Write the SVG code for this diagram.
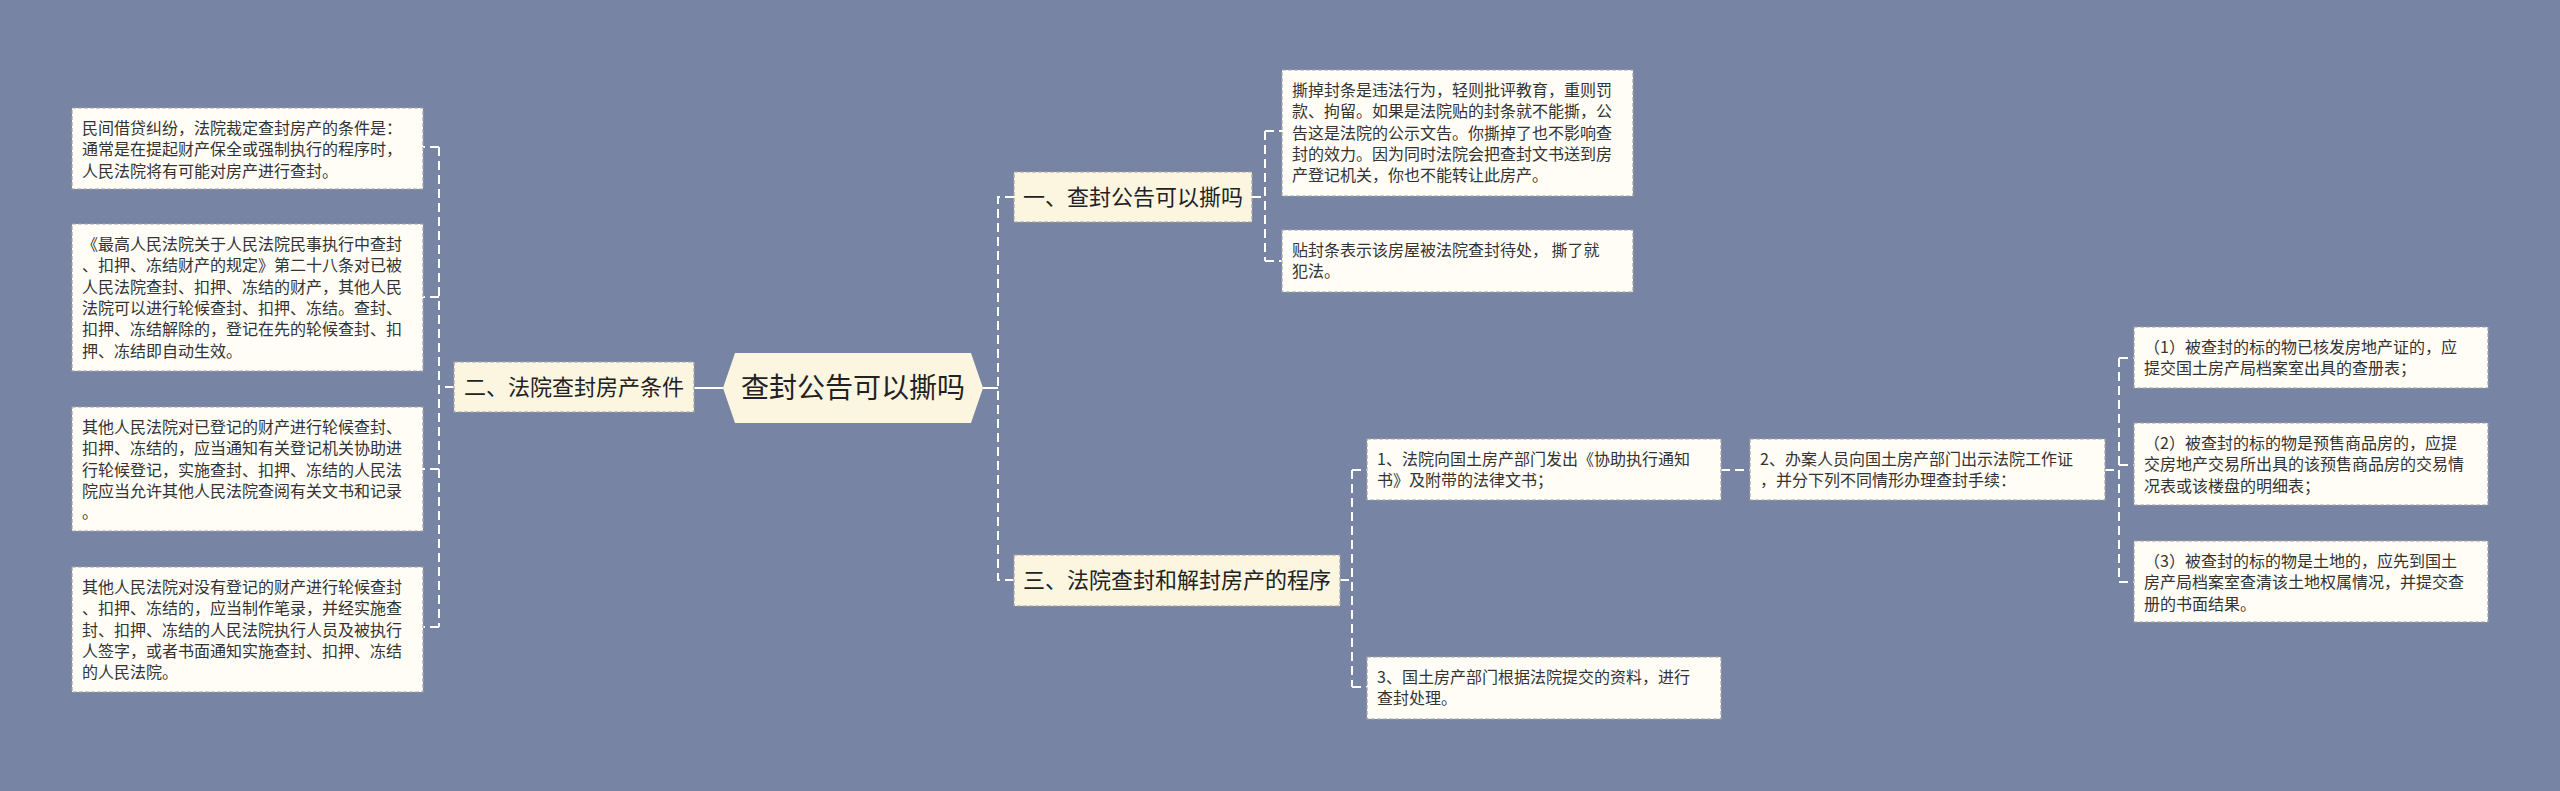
<svg xmlns="http://www.w3.org/2000/svg" width="2560" height="791" viewBox="0 0 2560 791">
<style>
.bg{fill:#7784a3}
.leaf{fill:#fffdf5;stroke:#a3a3a3;stroke-width:1.2;stroke-dasharray:4 2}
.l1{fill:#fcf5e0;stroke:#a3a3a3;stroke-width:1.2;stroke-dasharray:4 2}
.root{fill:#fcf5e0}
.t{font-family:"Noto Sans CJK SC","Noto Sans",sans-serif;font-size:16px;fill:#333333;white-space:pre}
.t1{font-family:"Noto Sans CJK SC","Noto Sans",sans-serif;font-size:22px;fill:#222222;text-anchor:middle}
.t0{font-family:"Noto Sans CJK SC","Noto Sans",sans-serif;font-size:28px;fill:#222222;text-anchor:middle}
.c{fill:none;stroke:#ffffff;stroke-width:2;stroke-dasharray:9 5}
.cs{fill:none;stroke:#ffffff;stroke-width:2}
</style>
<rect class="bg" x="0" y="0" width="2560" height="791"/>
<g id="connectors">
<path class="cs" d="M723 388 H694"/>
<path class="c" d="M454 387 H439"/>
<path class="c" d="M439 147 V627"/>
<path class="c" d="M439 147 H423 M439 297 H423 M439 469 H423 M439 627 H423"/>
<path class="cs" d="M983 388 H998"/>
<path class="c" d="M1014 197 H998 V580 H1014"/>
<path class="c" d="M1252 197 H1265 M1265 131 V261 M1265 131 H1282 M1265 261 H1282"/>
<path class="c" d="M1340 580 H1352 M1352 470 V687 M1352 470 H1367 M1352 687 H1367"/>
<path class="c" d="M1721 470 H1750"/>
<path class="c" d="M2105 470 H2119 M2119 358 V582 M2119 358 H2134 M2119 465 H2134 M2119 582 H2134"/>
</g>
<g id="root">
<polygon class="root" points="723,388 735,353 971,353 983,388 971,423 735,423"/>
<text class="t0" x="853" y="398">查封公告可以撕吗</text>
</g>
<g id="n2">
<rect class="l1" x="454" y="362" width="240" height="50"/>
<text class="t1" x="574" y="395">二、法院查封房产条件</text>
</g>
<g id="n2a">
<rect class="leaf" x="72" y="108" width="351" height="81"/>
<text class="t" x="82" y="134">民间借贷纠纷，法院裁定查封房产的条件是：</text>
<text class="t" x="82" y="155.3">通常是在提起财产保全或强制执行的程序时，</text>
<text class="t" x="82" y="176.6">人民法院将有可能对房产进行查封。</text>
</g>
<g id="n2b">
<rect class="leaf" x="72" y="224" width="351" height="147"/>
<text class="t" x="82" y="250">《最高人民法院关于人民法院民事执行中查封</text>
<text class="t" x="82" y="271.3">、扣押、冻结财产的规定》第二十八条对已被</text>
<text class="t" x="82" y="292.6">人民法院查封、扣押、冻结的财产，其他人民</text>
<text class="t" x="82" y="313.9">法院可以进行轮候查封、扣押、冻结。查封、</text>
<text class="t" x="82" y="335.2">扣押、冻结解除的，登记在先的轮候查封、扣</text>
<text class="t" x="82" y="356.5">押、冻结即自动生效。</text>
</g>
<g id="n2c">
<rect class="leaf" x="72" y="407" width="351" height="124"/>
<text class="t" x="82" y="433">其他人民法院对已登记的财产进行轮候查封、</text>
<text class="t" x="82" y="454.3">扣押、冻结的，应当通知有关登记机关协助进</text>
<text class="t" x="82" y="475.6">行轮候登记，实施查封、扣押、冻结的人民法</text>
<text class="t" x="82" y="496.9">院应当允许其他人民法院查阅有关文书和记录</text>
<text class="t" x="82" y="518.2">。</text>
</g>
<g id="n2d">
<rect class="leaf" x="72" y="567" width="351" height="125"/>
<text class="t" x="82" y="593">其他人民法院对没有登记的财产进行轮候查封</text>
<text class="t" x="82" y="614.3">、扣押、冻结的，应当制作笔录，并经实施查</text>
<text class="t" x="82" y="635.6">封、扣押、冻结的人民法院执行人员及被执行</text>
<text class="t" x="82" y="656.9">人签字，或者书面通知实施查封、扣押、冻结</text>
<text class="t" x="82" y="678.2">的人民法院。</text>
</g>
<g id="n1">
<rect class="l1" x="1014" y="172" width="238" height="50"/>
<text class="t1" x="1133" y="205">一、查封公告可以撕吗</text>
</g>
<g id="n1a">
<rect class="leaf" x="1282" y="70" width="351" height="126"/>
<text class="t" x="1292" y="96">撕掉封条是违法行为，轻则批评教育，重则罚</text>
<text class="t" x="1292" y="117.3">款、拘留。如果是法院贴的封条就不能撕，公</text>
<text class="t" x="1292" y="138.6">告这是法院的公示文告。你撕掉了也不影响查</text>
<text class="t" x="1292" y="159.9">封的效力。因为同时法院会把查封文书送到房</text>
<text class="t" x="1292" y="181.2">产登记机关，你也不能转让此房产。</text>
</g>
<g id="n1b">
<rect class="leaf" x="1282" y="230" width="351" height="62"/>
<text class="t" x="1292" y="256">贴封条表示该房屋被法院查封待处， 撕了就</text>
<text class="t" x="1292" y="277.3">犯法。</text>
</g>
<g id="n3">
<rect class="l1" x="1014" y="555" width="326" height="51"/>
<text class="t1" x="1177" y="588">三、法院查封和解封房产的程序</text>
</g>
<g id="n3a">
<rect class="leaf" x="1367" y="439" width="354" height="61"/>
<text class="t" x="1377" y="465">1、法院向国土房产部门发出《协助执行通知</text>
<text class="t" x="1377" y="486.3">书》及附带的法律文书；</text>
</g>
<g id="n3c">
<rect class="leaf" x="1367" y="657" width="354" height="62"/>
<text class="t" x="1377" y="683">3、国土房产部门根据法院提交的资料，进行</text>
<text class="t" x="1377" y="704.3">查封处理。</text>
</g>
<g id="n3b">
<rect class="leaf" x="1750" y="439" width="355" height="61"/>
<text class="t" x="1760" y="465">2、办案人员向国土房产部门出示法院工作证</text>
<text class="t" x="1760" y="486.3">，并分下列不同情形办理查封手续：</text>
</g>
<g id="n3b1">
<rect class="leaf" x="2134" y="327" width="354" height="61"/>
<text class="t" x="2144" y="353">（1）被查封的标的物已核发房地产证的，应</text>
<text class="t" x="2144" y="374.3">提交国土房产局档案室出具的查册表；</text>
</g>
<g id="n3b2">
<rect class="leaf" x="2134" y="423" width="354" height="82"/>
<text class="t" x="2144" y="449">（2）被查封的标的物是预售商品房的，应提</text>
<text class="t" x="2144" y="470.3">交房地产交易所出具的该预售商品房的交易情</text>
<text class="t" x="2144" y="491.6">况表或该楼盘的明细表；</text>
</g>
<g id="n3b3">
<rect class="leaf" x="2134" y="541" width="354" height="81"/>
<text class="t" x="2144" y="567">（3）被查封的标的物是土地的，应先到国土</text>
<text class="t" x="2144" y="588.3">房产局档案室查清该土地权属情况，并提交查</text>
<text class="t" x="2144" y="609.6">册的书面结果。</text>
</g>
</svg>
